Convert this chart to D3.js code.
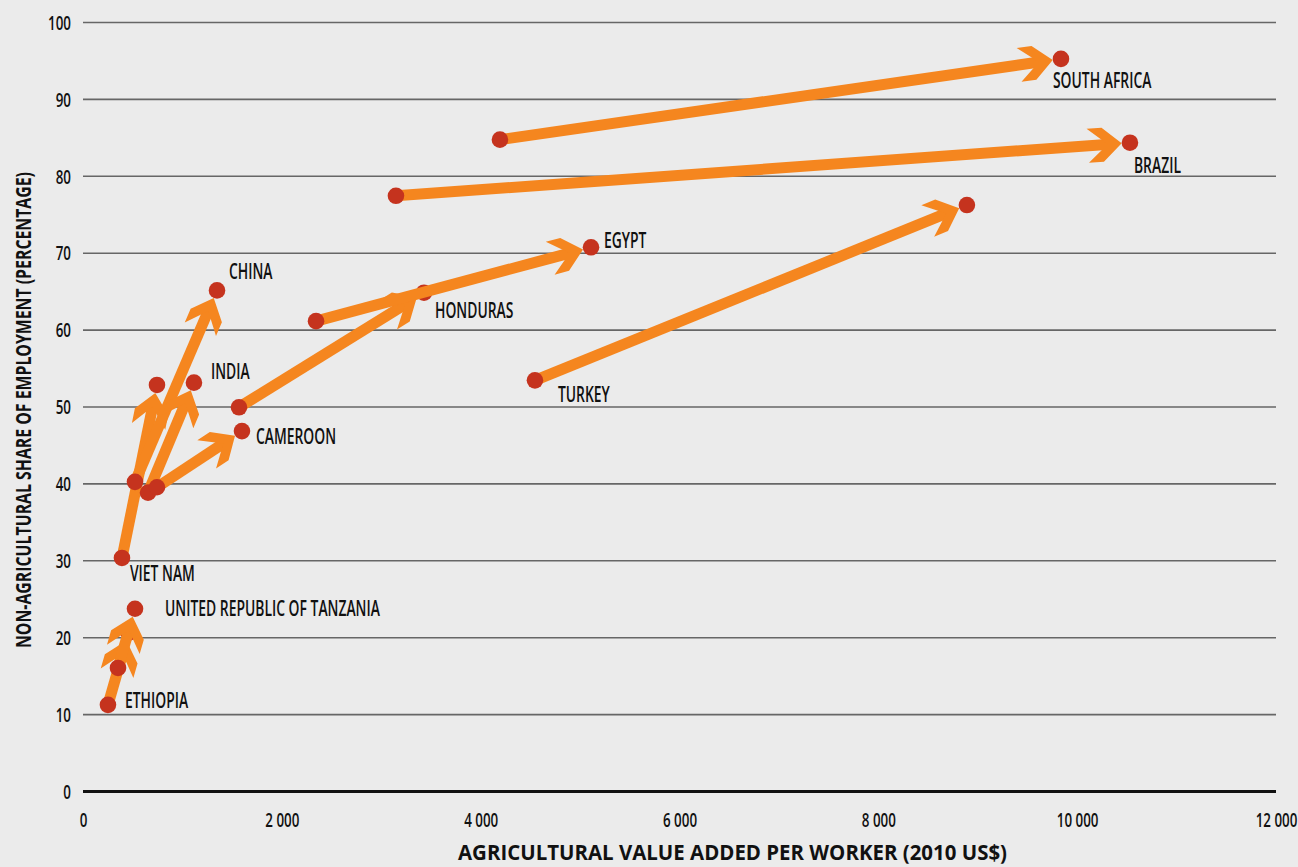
<!DOCTYPE html>
<html>
<head>
<meta charset="utf-8">
<script src="https://cdn.jsdelivr.net/npm/d3@7"></script>
<style>
  html, body { margin: 0; padding: 0; background: #EBEBEB; }
  svg { display: block; }
  text { font-family: "Open Sans", "Noto Sans", sans-serif; fill: #111; }
</style>
</head>
<body>
<svg id="chart" width="1298" height="867"></svg>
<script>
// ---- data ----
const countries = ["ETHIOPIA", "UNITED REPUBLIC OF TANZANIA", "VIET NAM", "CHINA", "INDIA", "CAMEROON", "HONDURAS", "EGYPT", "TURKEY", "BRAZIL", "SOUTH AFRICA"];
// agricultural value added per worker (2010 US$): start and end
const xStart = [251, 352, 392, 523, 654, 744, 1569, 2344, 4546, 3148, 4194];
const xEnd   = [460, 523, 744, 1348, 1116, 1599, 3430, 5110, 8891, 10531, 9837];
// non-agricultural share of employment (%): start and end
const yStart = [11.2, 16.0, 30.3, 40.2, 38.8, 39.5, 49.9, 61.1, 53.4, 77.4, 84.7];
const yEnd   = [20.6, 23.7, 52.8, 65.1, 53.1, 46.8, 64.8, 70.7, 76.2, 84.3, 95.2];
const xTicks = [0, 2000, 4000, 6000, 8000, 10000, 12000];
const yTicks = [0, 10, 20, 30, 40, 50, 60, 70, 80, 90, 100];
const xTitle = "AGRICULTURAL VALUE ADDED PER WORKER (2010 US$)";
const yTitle = "NON-AGRICULTURAL SHARE OF EMPLOYMENT (PERCENTAGE)";

// ---- layout / style ----
const labelAnchor = ["start", "end", "start", "end", "end", "end", "end", "end", "start", "end", "end"];
const labelOffset = [[17, -4], [30, 0], [8, 15], [12, -19], [17, -11], [14, 5], [11, 18], [13, -7], [23, 14], [4, 23], [-8, 22]];
const ORANGE = "#F5861F", RED = "#C5331E";
const R = 8.3, LW = 11;
const LABEL_FS = 21, TICK_FS = 20;

const svg = d3.select("#chart");
const W = 1298, H = 867;
const x = d3.scaleLinear().domain([0, 12000]).range([83, 1276]);
const y = d3.scaleLinear().domain([0, 100]).range([791, 22]);
const fmt = d3.formatLocale({ decimal: ".", thousands: " ", grouping: [3], currency: ["", ""] }).format(",d");

svg.append("rect").attr("width", W).attr("height", H).attr("fill", "#EBEBEB");

// calibrate a horizontal squeeze so the wide fallback font looks condensed like the original
function measure(str, fs, fw) {
  const t = svg.append("text").attr("font-size", fs).attr("font-weight", fw).text(str);
  const w = t.node().getComputedTextLength();
  t.remove();
  return w;
}
const LABEL_SX = 215 / measure("UNITED REPUBLIC OF TANZANIA", LABEL_FS, 600);
const TICK_SX = 41.7 / measure(fmt(10000), TICK_FS, 600);

// gridlines via y axis
const yAxis = d3.axisLeft(y).tickValues(yTicks).tickSize(-(1276 - 83)).tickPadding(12).tickFormat(d3.format("d"));
const gy = svg.append("g").attr("transform", "translate(83,0)").call(yAxis);
gy.select(".domain").remove();
gy.selectAll(".tick line").attr("stroke", "#666").attr("stroke-width", 1.6)
  .filter(d => d === 0).attr("stroke", "#111").attr("stroke-width", 3);
gy.selectAll(".tick text")
  .attr("font-size", TICK_FS).attr("font-weight", 600).attr("fill", "#111").attr("dy", "0.36em")
  .attr("x", -12 / TICK_SX).attr("transform", `scale(${TICK_SX},1)`);

// x axis labels
const xAxis = d3.axisBottom(x).tickValues(xTicks).tickSize(0).tickPadding(0).tickFormat(fmt);
const gx = svg.append("g").attr("transform", "translate(0,820)").call(xAxis);
gx.select(".domain").remove();
gx.selectAll(".tick text")
  .attr("font-size", TICK_FS).attr("font-weight", 600).attr("fill", "#111").attr("dy", "0.36em")
  .attr("transform", `scale(${TICK_SX},1)`);

// axis titles
svg.append("text").attr("x", 458).attr("y", 860)
  .attr("font-size", 21.5).attr("font-weight", "bold")
  .attr("textLength", 549).attr("lengthAdjust", "spacingAndGlyphs").text(xTitle);
svg.append("text").attr("transform", "translate(30.5,648) rotate(-90)")
  .attr("font-size", 21.5).attr("font-weight", "bold")
  .attr("textLength", 476).attr("lengthAdjust", "spacingAndGlyphs").text(yTitle);

// arrows
const data = countries.map((c, i) => ({ c, i, x0: xStart[i], y0: yStart[i], x1: xEnd[i], y1: yEnd[i] }));
const g = svg.append("g");
data.forEach(d => {
  const px0 = x(d.x0), py0 = y(d.y0), px1 = x(d.x1), py1 = y(d.y1);
  const dx = px1 - px0, dy = py1 - py0, len = Math.hypot(dx, dy);
  const ux = dx / len, uy = dy / len;
  const tipX = px1 - ux * R, tipY = py1 - uy * R;
  const ang = Math.atan2(uy, ux) * 180 / Math.PI;
  const gg = g.append("g");
  gg.append("line").attr("x1", px0).attr("y1", py0)
    .attr("x2", tipX - ux * 12).attr("y2", tipY - uy * 12)
    .attr("stroke", ORANGE).attr("stroke-width", LW);
  gg.append("path").attr("d", "M0,0 L-19,-17 L-34,-17 L-14,0 L-34,17 L-19,17 Z")
    .attr("transform", `translate(${tipX},${tipY}) rotate(${ang})`)
    .attr("fill", ORANGE);
  gg.append("circle").attr("cx", px0).attr("cy", py0).attr("r", R).attr("fill", RED);
  gg.append("circle").attr("cx", px1).attr("cy", py1).attr("r", R).attr("fill", RED);
});

// labels
svg.append("g").selectAll("text").data(data).join("text")
  .attr("transform", d => {
    const lx = (labelAnchor[d.i] === "start" ? x(d.x0) : x(d.x1)) + labelOffset[d.i][0];
    const ly = (labelAnchor[d.i] === "start" ? y(d.y0) : y(d.y1)) + labelOffset[d.i][1];
    return `translate(${lx},${ly}) scale(${LABEL_SX},1)`;
  })
  .attr("dy", "0.36em")
  .attr("font-size", LABEL_FS)
  .attr("font-weight", 600)
  .text(d => d.c);
</script>
</body>
</html>
